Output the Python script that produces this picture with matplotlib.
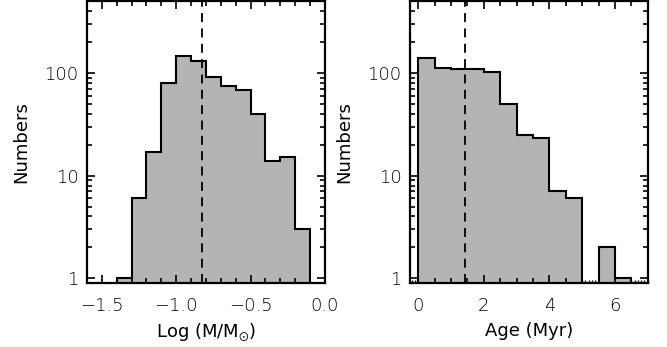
import numpy as np
import matplotlib.pyplot as plt
from matplotlib.ticker import MultipleLocator, FixedLocator, NullFormatter, LogLocator

plt.rcParams['font.family'] = ['DejaVu Sans']
plt.rcParams['font.weight'] = 'light'
plt.rcParams['mathtext.fontset'] = 'dejavusans'

# mass histogram (log M/Msun), bin width 0.1
mass_edges = np.round(np.arange(-1.4, -0.05, 0.1), 2)
mass_counts = [1, 6, 17, 79, 147, 129, 92, 75, 68, 40, 14, 15, 3]
mass_median = -0.83

# age histogram (Myr), bin width 0.5
age_edges = np.arange(0.0, 6.51, 0.5)
age_counts = [141, 111, 108, 108, 101, 50, 25, 23, 7, 6, 0, 2, 1]
age_median = 1.42

yticks = [1, 10, 100]
ytick_labels = ['1', '10', '100']

fig = plt.figure(figsize=(6.67, 3.47), dpi=100)
ax1 = fig.add_axes([0.1304, 0.1844, 0.3568, 0.8126])
ax2 = fig.add_axes([0.6147, 0.1844, 0.3564, 0.8126])

gray = '#b4b4b4'
fs = 13


def style(ax):
    ax.set_yscale('log')
    ax.set_ylim(0.9, 500)
    ax.yaxis.set_major_locator(FixedLocator(yticks))
    ax.set_yticklabels(ytick_labels)
    ax.yaxis.set_minor_locator(LogLocator(subs=np.arange(2, 10)))
    ax.yaxis.set_minor_formatter(NullFormatter())
    ax.tick_params(which='both', direction='in', top=True, right=True,
                   width=1.2, labelsize=fs, pad=6)
    ax.tick_params(axis='x', pad=10)
    ax.tick_params(which='major', length=6)
    ax.tick_params(which='minor', length=3.5)
    for s in ax.spines.values():
        s.set_linewidth(1.6)
    ax.set_ylabel('Numbers', fontsize=fs, labelpad=10)


# left panel
ax1.stairs(mass_counts, mass_edges, fill=True, color=gray, baseline=0.5)
ax1.stairs(mass_counts, mass_edges, color='black', linewidth=1.5, baseline=0.5)
ax1.axvline(mass_median, color='black', linewidth=1.3, dashes=(5, 3.5))
ax1.set_xlim(-1.6, 0.0)
ax1.xaxis.set_major_locator(MultipleLocator(0.5))
ax1.xaxis.set_minor_locator(MultipleLocator(0.1))
style(ax1)
ax1.set_xticks([-1.5, -1.0, -0.5, 0.0])
ax1.set_xticklabels(['\u22121.5', '\u22121.0', '\u22120.5', '0.0'])
ax1.set_xlabel(r'Log (M/M$_{\odot}$)', fontsize=fs, labelpad=5)

# right panel
ax2.stairs(age_counts, age_edges, fill=True, color=gray, baseline=0.5)
ax2.stairs(age_counts, age_edges, color='black', linewidth=1.5, baseline=0.5)
ax2.axvline(age_median, color='black', linewidth=1.3, dashes=(5, 3.5))
ax2.set_xlim(-0.25, 7.0)
ax2.xaxis.set_major_locator(MultipleLocator(2))
ax2.xaxis.set_minor_locator(MultipleLocator(0.5))
style(ax2)
ax2.set_xlabel('Age (Myr)', fontsize=fs, labelpad=5)

# dense small ticks along the bottom of the age panel
sec = ax2.secondary_xaxis(0.0)
sec.xaxis.set_major_locator(MultipleLocator(0.1))
sec.xaxis.set_major_formatter(NullFormatter())
sec.tick_params(direction='in', length=2, width=1.0)
sec.spines['bottom'].set_visible(False)

fig.savefig('out.png', dpi=100)
